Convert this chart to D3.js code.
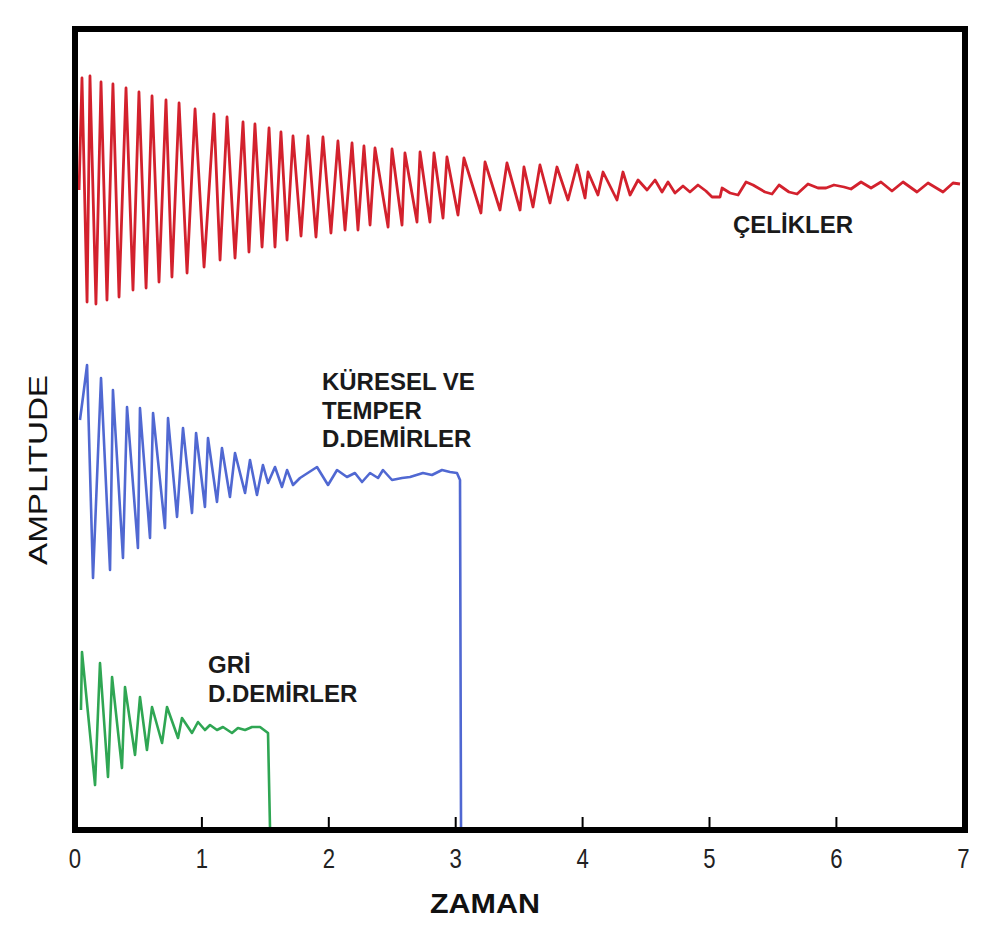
<!DOCTYPE html>
<html>
<head>
<meta charset="utf-8">
<script src="https://cdn.jsdelivr.net/npm/d3@7"></script>
<style>
  body { margin: 0; background: #fff; }
  text { font-family: "Liberation Sans", Arial, sans-serif; }
</style>
</head>
<body>
<div id="chart"></div>
<script>
// time ticks along the bottom
var timeTicks = [0, 1, 2, 3, 4, 5, 6, 7];
var innerTicks = [1, 2, 3, 4, 5, 6];

// [time, amplitude] (arbitrary amplitude units 0..8)
var celikler = [
  [0.032,6.40],[0.055,7.52],[0.095,5.28],[0.118,7.54],[0.165,5.26],[0.205,7.48],[0.252,5.30],
  [0.299,7.46],[0.347,5.33],[0.402,7.42],[0.457,5.40],[0.504,7.38],[0.560,5.42],[0.607,7.34],
  [0.662,5.48],[0.717,7.30],[0.764,5.53],[0.820,7.27],[0.883,5.57],[0.946,7.21],[1.017,5.63],
  [1.095,7.16],[1.143,5.70],[1.198,7.13],[1.261,5.72],[1.324,7.08],[1.371,5.78],[1.418,7.06],
  [1.474,5.83],[1.529,7.02],[1.576,5.83],[1.623,6.98],[1.671,5.90],[1.718,6.94],[1.781,5.94],
  [1.836,6.94],[1.899,5.93],[1.954,6.93],[2.017,5.97],[2.072,6.89],[2.128,6.00],[2.183,6.87],
  [2.230,6.00],[2.277,6.84],[2.325,6.05],[2.364,6.82],[2.467,6.03],[2.498,6.81],[2.577,6.05],
  [2.600,6.77],[2.695,6.08],[2.719,6.78],[2.797,6.08],[2.829,6.77],[2.900,6.12],[2.931,6.73],
  [3.018,6.15],[3.065,6.72],[3.199,6.17],[3.231,6.68],[3.349,6.20],[3.404,6.67],[3.507,6.20],
  [3.538,6.63],[3.609,6.23],[3.664,6.65],[3.743,6.27],[3.798,6.63],[3.885,6.30],[3.956,6.65],
  [4.019,6.32],[4.043,6.58],[4.121,6.35],[4.161,6.58],[4.271,6.30],[4.318,6.58],[4.374,6.35],
  [4.437,6.50],[4.508,6.40],[4.571,6.50],[4.626,6.38],[4.673,6.48],[4.728,6.37],[4.791,6.44],
  [4.846,6.38],[4.909,6.45],[4.972,6.39],[5.020,6.33],[5.083,6.33],[5.099,6.42],[5.162,6.37],
  [5.225,6.35],[5.288,6.48],[5.343,6.45],[5.437,6.38],[5.493,6.36],[5.548,6.45],[5.626,6.38],
  [5.690,6.36],[5.776,6.46],[5.855,6.42],[5.918,6.42],[5.981,6.45],[6.060,6.43],[6.115,6.41],
  [6.194,6.48],[6.273,6.42],[6.351,6.48],[6.438,6.39],[6.525,6.48],[6.635,6.38],[6.722,6.47],
  [6.840,6.38],[6.919,6.47],[6.974,6.46]
];

var kuresel = [
  [0.039,4.10],[0.063,4.33],[0.095,4.65],[0.142,2.52],[0.205,4.52],[0.276,2.60],[0.299,4.40],
  [0.378,2.72],[0.410,4.23],[0.496,2.82],[0.512,4.22],[0.591,2.92],[0.615,4.17],[0.709,3.02],
  [0.733,4.12],[0.804,3.13],[0.851,4.02],[0.922,3.17],[0.954,3.97],[1.024,3.23],[1.048,3.92],
  [1.119,3.28],[1.158,3.82],[1.221,3.33],[1.261,3.77],[1.340,3.37],[1.379,3.70],[1.434,3.35],
  [1.481,3.65],[1.521,3.47],[1.576,3.63],[1.631,3.43],[1.671,3.60],[1.718,3.45],[1.773,3.52],
  [1.907,3.63],[1.994,3.45],[2.065,3.60],[2.143,3.53],[2.206,3.57],[2.262,3.48],[2.325,3.57],
  [2.388,3.52],[2.427,3.60],[2.498,3.50],[2.577,3.52],[2.640,3.53],[2.742,3.57],[2.813,3.55],
  [2.892,3.60],[2.955,3.58],[3.010,3.57],[3.034,3.50],[3.042,0]
];

var gri = [
  [0.047,1.20],[0.055,1.78],[0.158,0.45],[0.197,1.67],[0.260,0.53],[0.292,1.53],[0.370,0.62],
  [0.394,1.43],[0.473,0.75],[0.512,1.33],[0.567,0.80],[0.607,1.23],[0.686,0.87],[0.725,1.23],
  [0.812,0.92],[0.843,1.12],[0.922,0.97],[0.969,1.08],[1.024,1.00],[1.064,1.05],[1.119,1.00],
  [1.166,1.03],[1.237,0.97],[1.284,1.02],[1.340,1.00],[1.395,1.03],[1.458,1.03],[1.521,0.97],
  [1.537,0]
];

var seriesNames = ["ÇELİKLER", "KÜRESEL VE|TEMPER|D.DEMİRLER", "GRİ|D.DEMİRLER"];

var width = 1007, height = 936;
// frame edges (note: "top" is reserved on window, so prefixed)
var fLeft = 75, fRight = 965, fTop = 29, fBottom = 830;

var svg = d3.select("#chart").append("svg")
  .attr("width", width)
  .attr("height", height);

var x = d3.scaleLinear().domain([0, 7]).range([fLeft, fLeft + 7 * 126.9]);
var y = d3.scaleLinear().domain([0, 8]).range([fBottom, fBottom - 800]);

var line = d3.line()
  .x(function(d) { return x(d[0]); })
  .y(function(d) { return y(d[1]); });

// traces
svg.append("path").datum(celikler)
  .attr("d", line).attr("fill", "none")
  .attr("stroke", "#d3212d").attr("stroke-width", 2.8).attr("stroke-linejoin", "round");
svg.append("path").datum(kuresel)
  .attr("d", line).attr("fill", "none")
  .attr("stroke", "#5068d2").attr("stroke-width", 2.6).attr("stroke-linejoin", "round");
svg.append("path").datum(gri)
  .attr("d", line).attr("fill", "none")
  .attr("stroke", "#2fa653").attr("stroke-width", 2.6).attr("stroke-linejoin", "round");

// frame
svg.append("rect")
  .attr("x", fLeft).attr("y", fTop)
  .attr("width", fRight - fLeft).attr("height", fBottom - fTop)
  .attr("fill", "none").attr("stroke", "#000").attr("stroke-width", 6);

// small ticks inside bottom edge
svg.selectAll(".itick").data(innerTicks).enter().append("line")
  .attr("x1", function(d) { return x(d); }).attr("x2", function(d) { return x(d); })
  .attr("y1", fBottom).attr("y2", fBottom - 13)
  .attr("stroke", "#000").attr("stroke-width", 2);

// tick labels
svg.selectAll(".tlabel").data(timeTicks).enter().append("text")
  .attr("transform", function(d) { return "translate(" + x(d) + ",868) scale(0.82,1)"; })
  .attr("text-anchor", "middle")
  .attr("font-size", 27)
  .attr("fill", "#222")
  .text(function(d) { return d; });

svg.append("text")
  .attr("x", 485).attr("y", 913)
  .attr("text-anchor", "middle")
  .attr("font-size", 27).attr("font-weight", "bold")
  .attr("textLength", 110).attr("lengthAdjust", "spacingAndGlyphs")
  .attr("fill", "#111")
  .text("ZAMAN");

svg.append("text")
  .attr("transform", "translate(47,470) rotate(-90)")
  .attr("text-anchor", "middle")
  .attr("font-size", 26)
  .attr("textLength", 190).attr("lengthAdjust", "spacingAndGlyphs")
  .attr("fill", "#111")
  .text("AMPLITUDE");

// series labels
var labelAt = [[5.185, 5.97], [1.946, 4.40], [1.048, 1.57]];
seriesNames.forEach(function(name, i) {
  var t = svg.append("text")
    .attr("x", x(labelAt[i][0])).attr("y", y(labelAt[i][1]))
    .attr("font-size", 24).attr("font-weight", "bold").attr("fill", "#1a1a1a");
  name.split("|").forEach(function(part, j) {
    t.append("tspan")
      .attr("x", x(labelAt[i][0]))
      .attr("dy", j === 0 ? 0 : 28.5)
      .text(part);
  });
});
</script>
</body>
</html>
